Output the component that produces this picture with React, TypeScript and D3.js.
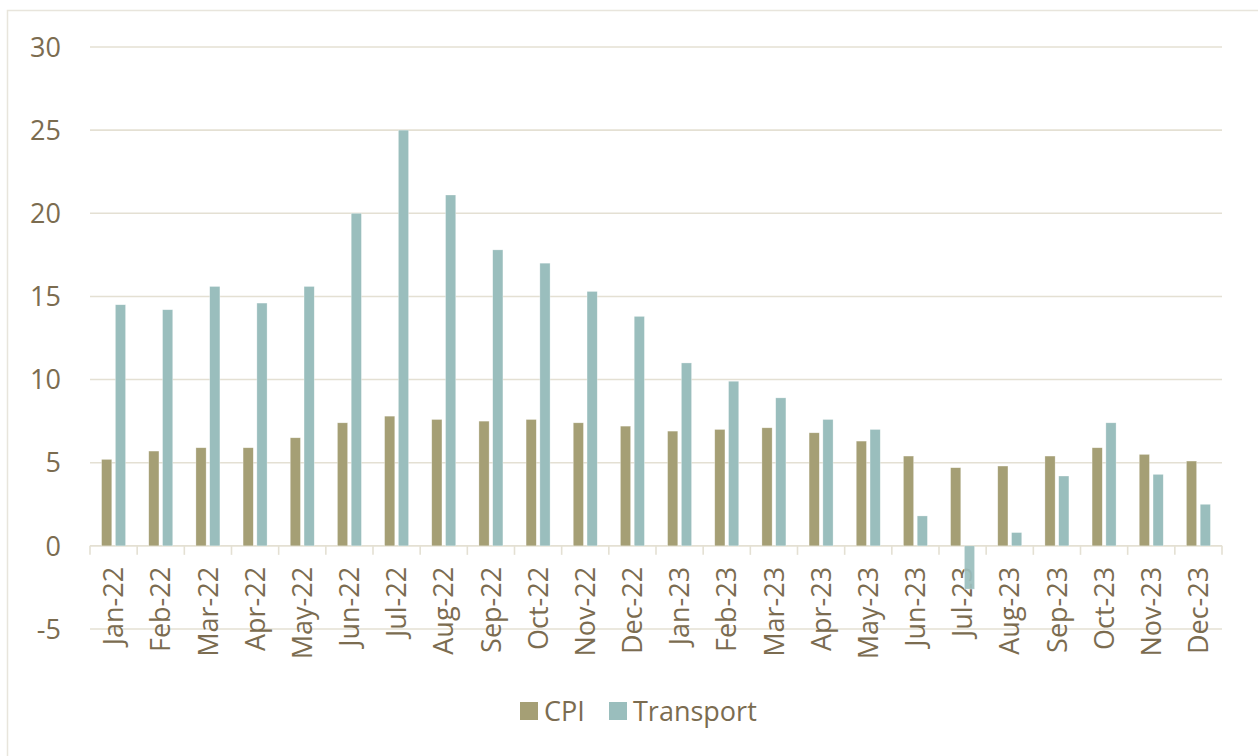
import React, { useRef, useEffect } from "react";
import * as d3 from "d3";

const months = [
  "Jan-22", "Feb-22", "Mar-22", "Apr-22", "May-22", "Jun-22",
  "Jul-22", "Aug-22", "Sep-22", "Oct-22", "Nov-22", "Dec-22",
  "Jan-23", "Feb-23", "Mar-23", "Apr-23", "May-23", "Jun-23",
  "Jul-23", "Aug-23", "Sep-23", "Oct-23", "Nov-23", "Dec-23",
];

const cpi = [
  5.2, 5.7, 5.9, 5.9, 6.5, 7.4, 7.8, 7.6, 7.5, 7.6, 7.4, 7.2,
  6.9, 7.0, 7.1, 6.8, 6.3, 5.4, 4.7, 4.8, 5.4, 5.9, 5.5, 5.1,
];

const transport = [
  14.5, 14.2, 15.6, 14.6, 15.6, 20.0, 25.0, 21.1, 17.8, 17.0, 15.3, 13.8,
  11.0, 9.9, 8.9, 7.6, 7.0, 1.8, -2.6, 0.8, 4.2, 7.4, 4.3, 2.5,
];

const seriesNames = ["CPI", "Transport"];
const yTicks = [-5, 0, 5, 10, 15, 20, 25, 30];

const colors: Record<string, string> = {
  CPI: "#a59f75",
  Transport: "#9abebd",
};
const textColor = "#7b6c50";
const gridColor = "#e4e0d3";

export default function App() {
  const ref = useRef<SVGSVGElement>(null);

  useEffect(() => {
    const width = 1258;
    const height = 756;
    const margin = { top: 47, right: 36, bottom: 128, left: 90 };

    const svg = d3.select(ref.current);
    svg.selectAll("*").remove();
    svg.attr("width", width).attr("height", height);

    const font = "'Open Sans', sans-serif";

    // frame
    svg.append("rect")
      .attr("x", 7.5).attr("y", 10.5)
      .attr("width", width + 10).attr("height", height + 10)
      .attr("fill", "#fff")
      .attr("stroke", "#e8e5dc")
      .attr("stroke-width", 1.5);

    const x0 = d3.scaleBand<string>()
      .domain(months)
      .range([margin.left, width - margin.right])
      .padding(0);

    const x1 = d3.scaleBand<string>()
      .domain(seriesNames)
      .range([0, x0.bandwidth()])
      .paddingInner(0.26)
      .paddingOuter(0.84);

    const y = d3.scaleLinear()
      .domain([-5, 30])
      .range([height - margin.bottom + 1, margin.top]);

    // gridlines
    svg.append("g")
      .selectAll("line")
      .data(yTicks)
      .enter()
      .append("line")
      .attr("x1", margin.left)
      .attr("x2", width - margin.right)
      .attr("y1", d => y(d))
      .attr("y2", d => y(d))
      .attr("stroke", gridColor)
      .attr("stroke-width", 1.6);

    // y labels
    svg.append("g")
      .selectAll("text")
      .data(yTicks)
      .enter()
      .append("text")
      .attr("x", 61)
      .attr("y", d => y(d))
      .attr("dy", "0.36em")
      .attr("text-anchor", "end")
      .style("font-family", font)
      .style("font-size", "27px")
      .style("fill", textColor)
      .text(d => d);

    // category ticks on the zero line
    const bounds = months.map(m => x0(m) as number).concat([width - margin.right]);
    svg.append("g")
      .selectAll("line")
      .data(bounds)
      .enter()
      .append("line")
      .attr("x1", d => d)
      .attr("x2", d => d)
      .attr("y1", y(0))
      .attr("y2", y(0) + 9)
      .attr("stroke", gridColor)
      .attr("stroke-width", 1.6);

    // x labels
    svg.append("g")
      .selectAll("text")
      .data(months)
      .enter()
      .append("text")
      .attr("transform", d => `translate(${(x0(d) as number) + x0.bandwidth() / 2},${y(0) + 21}) rotate(-90)`)
      .attr("dy", "0.36em")
      .attr("text-anchor", "end")
      .style("font-family", font)
      .style("font-size", "27px")
      .style("fill", textColor)
      .text(d => d);

    // bars
    const rows = months.map((m, i) => ({ month: m, CPI: cpi[i], Transport: transport[i] }));
    svg.append("g")
      .selectAll("g")
      .data(rows)
      .enter()
      .append("g")
      .attr("transform", d => `translate(${x0(d.month)},0)`)
      .selectAll("rect")
      .data(d => seriesNames.map(s => ({ key: s, value: (d as any)[s] as number })))
      .enter()
      .append("rect")
      .attr("x", d => x1(d.key) as number)
      .attr("y", d => y(Math.max(0, d.value)))
      .attr("width", x1.bandwidth())
      .attr("height", d => Math.abs(y(d.value) - y(0)))
      .attr("fill", d => colors[d.key])
      .attr("fill-opacity", d => (d.value < 0 ? 0.92 : 1))
      .attr("stroke", "#ffffff")
      .attr("stroke-opacity", 0.5)
      .attr("stroke-width", 0.6);

    // legend
    const legend = [
      { key: "CPI", x: 520 },
      { key: "Transport", x: 609 },
    ];
    const lg = svg.append("g");
    lg.selectAll("rect")
      .data(legend)
      .enter()
      .append("rect")
      .attr("x", d => d.x)
      .attr("y", 702)
      .attr("width", 18)
      .attr("height", 18)
      .attr("fill", d => colors[d.key]);
    lg.selectAll("text")
      .data(legend)
      .enter()
      .append("text")
      .attr("x", d => d.x + 24)
      .attr("y", 711)
      .attr("dy", "0.36em")
      .style("font-family", font)
      .style("font-size", "27px")
      .style("fill", textColor)
      .text(d => d.key);
  }, []);

  return (
    <svg ref={ref} style={{ position: "absolute", left: 0, top: 0, width: 1258, height: 756 }}></svg>
  );
}
